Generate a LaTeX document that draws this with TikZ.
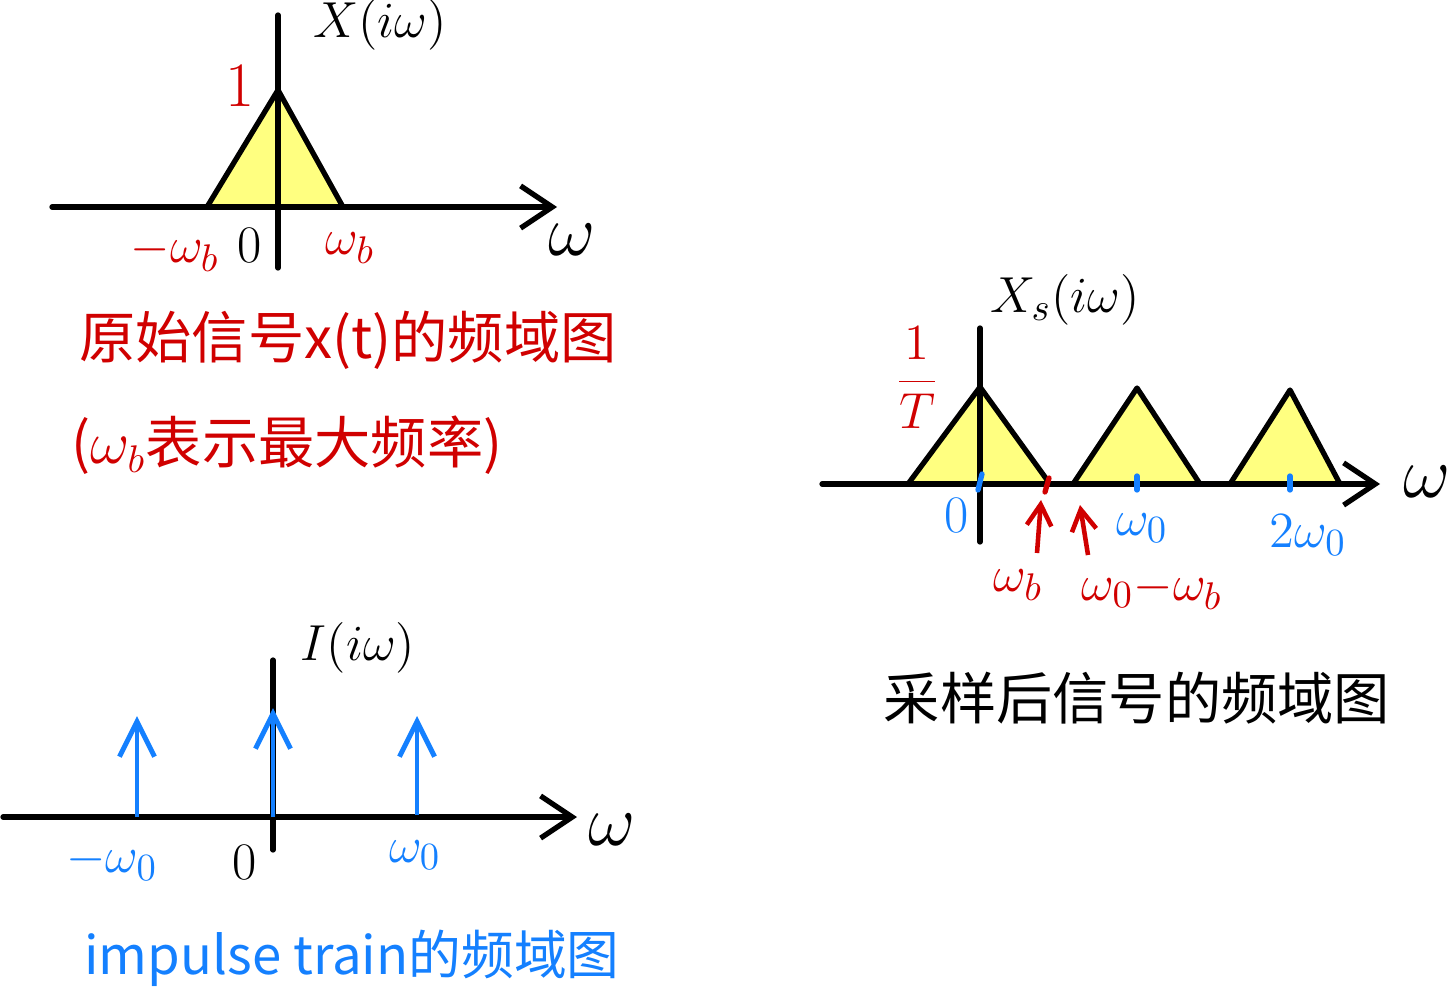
\documentclass[tikz,border=0pt]{standalone}
\usepackage{fontspec}
\newfontfamily\cjk{Noto Sans CJK SC}
\usetikzlibrary{arrows.meta}
\definecolor{penred}{RGB}{208,0,0}
\definecolor{penblue}{RGB}{20,128,255}
\definecolor{marker}{RGB}{255,255,128}

\begin{document}
\begin{tikzpicture}[x=0.01cm, y=-0.01cm,
    axis/.style={line width=1.5pt, line cap=round, -{Straight Barb[length=9pt,width=12pt,line width=1.5pt]}},
    yaxis/.style={line width=1.5pt, line cap=round},
    band/.style={fill=marker, draw=black, line width=1.5pt, line join=round},
    spike/.style={penblue, line width=1.4pt, -{Straight Barb[length=10pt,width=10pt,line width=1.4pt]}},
    pointer/.style={penred, line width=1.3pt, -{Straight Barb[length=6pt,width=7pt,line width=1.3pt]}},
    tickmark/.style={line width=1.5pt, line cap=round},
    lbl/.style={font=\fontsize{15}{17}\selectfont, inner sep=1pt},
    big/.style={font=\fontsize{20}{22}\selectfont, inner sep=1pt},
    caption/.style={font=\cjk\fontsize{16}{19}\selectfont, inner sep=1pt}
]
\useasboundingbox (0,0) rectangle (1452,1000);

% original spectrum
\draw[band] (207,207) -- (278,90) -- (343,207);
\coordinate (xa0) at (52,207);
\coordinate (xa1) at (557,207);
\coordinate (ya0) at (278,268);
\coordinate (ya1) at (278,15);
\draw[axis] (xa0) -- (xa1);
\draw[yaxis] (ya0) -- (ya1);
\node[lbl] at (380,25) (Xlabel) {$X(i\omega)$};
\node[big] at (572,240) (w1) {$\omega$};
\node[lbl, font=\fontsize{18}{20}\selectfont, penred] at (240,86) (one) {1};
\node[lbl, penred] at (175,252) (mwb) {$-\omega_b$};
\node[lbl] at (250,245) (zero1) {0};
\node[lbl, penred] at (350,248) (wb) {$\omega_b$};
\node[caption, penred] at (348,340) (cap1) {原始信号x(t)的频域图};
\node[caption, penred] at (287,445) (cap2) {($\omega_b$表示最大频率)};

% sampled spectrum
\draw[band] (908,484) -- (980,387) -- (1050,484);
\draw[band] (1073,484) -- (1137,388) -- (1200,484);
\draw[band] (1230,484) -- (1290,390) -- (1340,484);
\coordinate (sa0) at (822,484);
\coordinate (sa1) at (1380,484);
\coordinate (sy0) at (980,542);
\coordinate (sy1) at (980,328);
\draw[axis] (sa0) -- (sa1);
\draw[yaxis] (sy0) -- (sy1);
\draw[tickmark, penblue] (982,474) -- (978,490);
\draw[tickmark, penblue] (1137,476) -- (1137,490);
\draw[tickmark, penblue] (1290,476) -- (1290,490);
\draw[tickmark, penred] (1049,478) -- (1045,492);
\node[lbl] at (1065,300) (Xslabel) {$X_s(i\omega)$};
\node[lbl, penred] at (917,378) (invT) {$\displaystyle\frac{1}{T}$};
\node[big] at (1427,482) (w2) {$\omega$};
\node[lbl, penblue] at (957,515) (zero2) {0};
\node[lbl, penblue] at (1142,528) (w0) {$\omega_0$};
\node[lbl, penblue] at (1308,535) (tw0) {$2\omega_0$};
\coordinate (p1s) at (1037,553);
\coordinate (p1e) at (1041,500);
\coordinate (p2s) at (1088,555);
\coordinate (p2e) at (1080,505);
\draw[pointer] (p1s) -- (p1e);
\draw[pointer] (p2s) -- (p2e);
\node[lbl, penred] at (1018,585) (wb2) {$\omega_b$};
\node[lbl, penred] at (1152,590) (w0mwb) {$\omega_0{-}\omega_b$};
\node[caption] at (1137,698) (cap3) {采样后信号的频域图};

% impulse train
\coordinate (ia0) at (3,817);
\coordinate (ia1) at (577,817);
\coordinate (iy0) at (273,850);
\coordinate (iy1) at (273,660);
\draw[axis] (ia0) -- (ia1);
\draw[yaxis] (iy0) -- (iy1);
\coordinate (d1s) at (137,817);
\coordinate (d1e) at (137,716);
\coordinate (d2s) at (273,817);
\coordinate (d2e) at (273,708);
\coordinate (d3s) at (417,815);
\coordinate (d3e) at (417,716);
\draw[spike] (d1s) -- (d1e);
\draw[spike] (d2s) -- (d2e);
\draw[spike] (d3s) -- (d3e);
\node[lbl] at (358,648) (Ilabel) {$I(i\omega)$};
\node[big] at (612,830) (w3) {$\omega$};
\node[lbl, penblue] at (112,862) (mw0) {$-\omega_0$};
\node[lbl] at (245,862) (zero3) {0};
\node[lbl, penblue] at (415,855) (pw0) {$\omega_0$};
\node[caption, font=\cjk\fontsize{15}{18}\selectfont, penblue] at (352,958) (cap4) {impulse train的频域图};
\end{tikzpicture}
\end{document}
